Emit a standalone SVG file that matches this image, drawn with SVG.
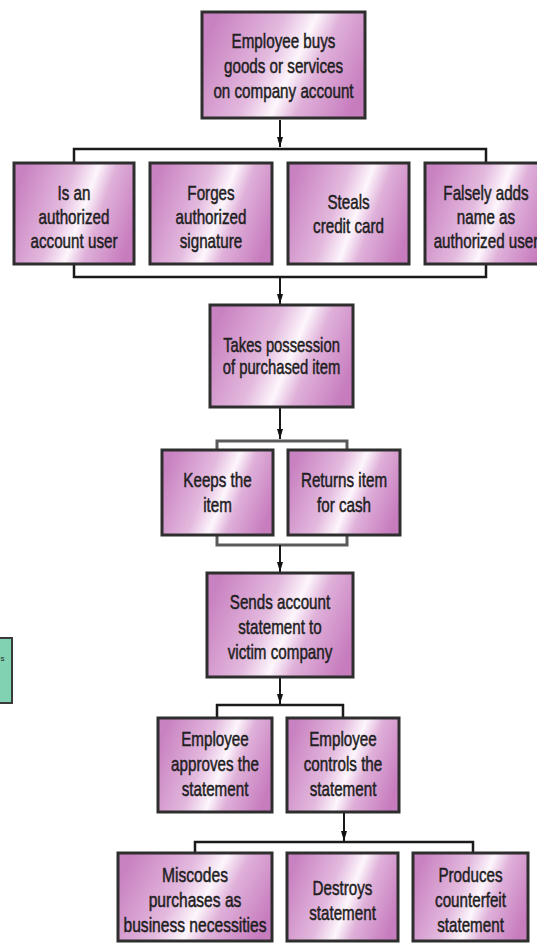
<svg xmlns="http://www.w3.org/2000/svg" width="537" height="944" viewBox="0 0 537 944">
<defs>
<linearGradient id="pg" x1="0" y1="0.35" x2="1" y2="0.65">
<stop offset="0" stop-color="#c982c1"/>
<stop offset="0.38" stop-color="#e3b9de"/>
<stop offset="0.56" stop-color="#fdf6fc"/>
<stop offset="0.7" stop-color="#dfb0d9"/>
<stop offset="1" stop-color="#c77cbe"/>
</linearGradient>
<marker id="ah" viewBox="0 0 10 6" refX="10" refY="3" markerWidth="10" markerHeight="6" markerUnits="userSpaceOnUse" orient="auto">
<path d="M0,0 L10,3 L0,6 Z" fill="#111"/>
</marker>
</defs>
<style>
.box{fill:url(#pg);stroke:#2e2e2e;stroke-width:3}
.t{font-family:"Liberation Sans",Arial,sans-serif;font-size:20px;fill:#1e1e1e;stroke:#1e1e1e;stroke-width:0.5;text-anchor:middle}
.ln{fill:none;stroke:#1a1a1a;stroke-width:2.5}
.lg{fill:none;stroke:#5a5a5a;stroke-width:3}
.ar{fill:none;stroke:#1a1a1a;stroke-width:2}
</style>
<rect width="537" height="944" fill="#ffffff"/>

<g id="connectors">
<line class="ar" x1="280" y1="120" x2="280" y2="147" marker-end="url(#ah)"/>
<polyline class="ln" points="74,163 74,149 486,149 486,163"/>
<polyline class="ln" points="74,264 74,277 486,277 486,264"/>
<line class="ar" x1="280" y1="277" x2="280" y2="304" marker-end="url(#ah)"/>
<line class="ar" x1="280" y1="407" x2="280" y2="439" marker-end="url(#ah)"/>
<polyline class="lg" points="217,450 217,441 347,441 347,450"/>
<polyline class="lg" points="217,535 217,545 347,545 347,535"/>
<line class="ar" x1="280" y1="545" x2="280" y2="572" marker-end="url(#ah)"/>
<line class="ar" x1="280" y1="677" x2="280" y2="704" marker-end="url(#ah)"/>
<polyline class="ln" points="217,718 217,705 343,705 343,718"/>
<line class="ar" x1="344" y1="812" x2="344" y2="841" marker-end="url(#ah)"/>
<polyline class="ln" points="195,853 195,842 473,842 473,853"/>
</g>

<g id="n-top">
<rect class="box" x="202" y="12" width="163" height="106" stroke-width="4"/>
<g transform="translate(283.5 0) scale(0.76 1)">
<text class="t" x="0" y="48">Employee buys</text>
<text class="t" x="0" y="73">goods or services</text>
<text class="t" x="0" y="98">on company account</text>
</g>
</g>

<g id="n-authorized">
<rect class="box" x="14" y="163" width="120" height="101"/>
<g transform="translate(74 0) scale(0.76 1)">
<text class="t" x="0" y="200">Is an</text>
<text class="t" x="0" y="224">authorized</text>
<text class="t" x="0" y="248">account user</text>
</g>
</g>

<g id="n-forges">
<rect class="box" x="150" y="163" width="122" height="101"/>
<g transform="translate(211 0) scale(0.76 1)">
<text class="t" x="0" y="200">Forges</text>
<text class="t" x="0" y="224">authorized</text>
<text class="t" x="0" y="248">signature</text>
</g>
</g>

<g id="n-steals">
<rect class="box" x="288" y="163" width="121" height="101"/>
<g transform="translate(348.5 0) scale(0.76 1)">
<text class="t" x="0" y="209">Steals</text>
<text class="t" x="0" y="233">credit card</text>
</g>
</g>

<g id="n-falsely">
<rect class="box" x="425" y="163" width="122" height="101"/>
<g transform="translate(486 0) scale(0.76 1)">
<text class="t" x="0" y="200">Falsely adds</text>
<text class="t" x="0" y="224">name as</text>
<text class="t" x="0" y="248">authorized user</text>
</g>
</g>

<g id="n-takes">
<rect class="box" x="210" y="305" width="143" height="102"/>
<g transform="translate(281.5 0) scale(0.74 1)">
<text class="t" x="0" y="352">Takes possession</text>
<text class="t" x="0" y="374">of purchased item</text>
</g>
</g>

<g id="n-keeps">
<rect class="box" x="162" y="450" width="111" height="85"/>
<g transform="translate(217.5 0) scale(0.76 1)">
<text class="t" x="0" y="487">Keeps the</text>
<text class="t" x="0" y="512">item</text>
</g>
</g>

<g id="n-returns">
<rect class="box" x="288" y="450" width="112" height="85"/>
<g transform="translate(344 0) scale(0.76 1)">
<text class="t" x="0" y="487">Returns item</text>
<text class="t" x="0" y="512">for cash</text>
</g>
</g>

<g id="n-sends">
<rect class="box" x="207" y="573" width="146" height="104"/>
<g transform="translate(280 0) scale(0.76 1)">
<text class="t" x="0" y="609">Sends account</text>
<text class="t" x="0" y="634">statement to</text>
<text class="t" x="0" y="659">victim company</text>
</g>
</g>

<g id="n-green">
<rect x="-2" y="638" width="14" height="65" fill="#80d2b2" stroke="#3a3a3a" stroke-width="2"/>
<text x="0.5" y="661" font-family="Liberation Sans, Arial, sans-serif" font-size="8" fill="#222">s</text>
</g>

<g id="n-approves">
<rect class="box" x="158" y="718" width="114" height="94"/>
<g transform="translate(215 0) scale(0.76 1)">
<text class="t" x="0" y="746">Employee</text>
<text class="t" x="0" y="771">approves the</text>
<text class="t" x="0" y="796">statement</text>
</g>
</g>

<g id="n-controls">
<rect class="box" x="287" y="718" width="112" height="94"/>
<g transform="translate(343 0) scale(0.76 1)">
<text class="t" x="0" y="746">Employee</text>
<text class="t" x="0" y="771">controls the</text>
<text class="t" x="0" y="796">statement</text>
</g>
</g>

<g id="n-miscodes">
<rect class="box" x="118" y="853" width="154" height="88"/>
<g transform="translate(195 0) scale(0.78 1)">
<text class="t" x="0" y="882">Miscodes</text>
<text class="t" x="0" y="907">purchases as</text>
<text class="t" x="0" y="932">business necessities</text>
</g>
</g>

<g id="n-destroys">
<rect class="box" x="287" y="853" width="111" height="88"/>
<g transform="translate(342.5 0) scale(0.76 1)">
<text class="t" x="0" y="895">Destroys</text>
<text class="t" x="0" y="920">statement</text>
</g>
</g>

<g id="n-produces">
<rect class="box" x="413" y="853" width="115" height="88"/>
<g transform="translate(470.5 0) scale(0.76 1)">
<text class="t" x="0" y="882">Produces</text>
<text class="t" x="0" y="907">counterfeit</text>
<text class="t" x="0" y="932">statement</text>
</g>
</g>
</svg>
